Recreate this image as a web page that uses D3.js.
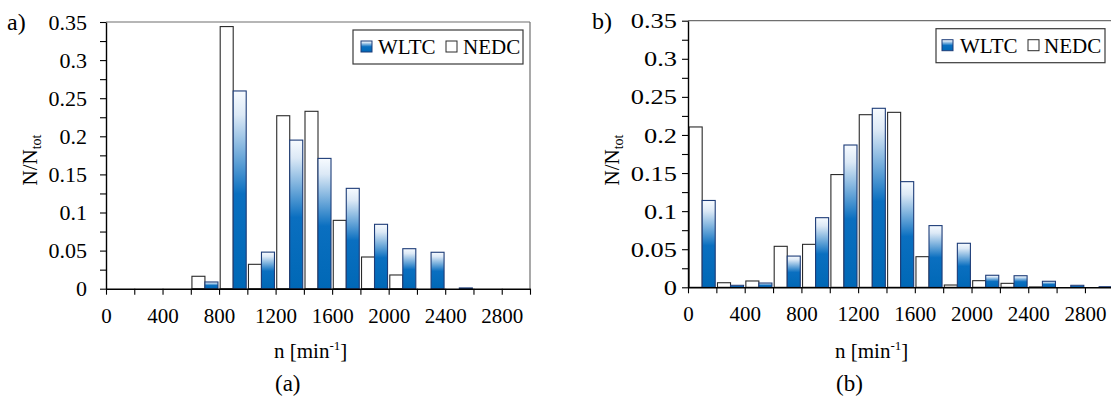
<!DOCTYPE html>
<html>
<head>
<meta charset="utf-8">
<script src="https://cdn.jsdelivr.net/npm/d3@7/dist/d3.min.js"></script>
<style>
  html, body { margin: 0; padding: 0; background: #fff; }
  svg { display: block; }
  svg text { font-family: "Liberation Serif", "Times New Roman", Times, serif; fill: #000; }
</style>
</head>
<body>
<svg id="chart" width="1111" height="399" font-family="Liberation Serif"></svg>
<script>
// ---------------- data ----------------
const binStarts = [0, 200, 400, 600, 800, 1000, 1200, 1400, 1600, 1800, 2000, 2200, 2400, 2600, 2800];
const seriesNames = ["NEDC", "WLTC"];
// panel a)
const wltcA = [0, 0, 0, 0.0088, 0.2595, 0.048, 0.195, 0.171, 0.1317, 0.0845, 0.0525, 0.0478, 0.001, 0, 0];
const nedcA = [0, 0, 0, 0.0163, 0.344, 0.032, 0.227, 0.2328, 0.0897, 0.0416, 0.018, 0, 0, 0, 0];
// panel b)
const wltcB = [0.114, 0.0026, 0.0056, 0.041, 0.0914, 0.1868, 0.235, 0.1387, 0.081, 0.0578, 0.0158, 0.0152, 0.0079, 0.0026, 0.0008];
const nedcB = [0.2105, 0.006, 0.0083, 0.0538, 0.0564, 0.148, 0.2266, 0.2297, 0.0402, 0.003, 0.0087, 0.0052, 0.0005, 0, 0];
// ticks
const yMajorTicks = [0, 0.05, 0.1, 0.15, 0.2, 0.25, 0.3, 0.35];
const yTickLabels = ["0", "0.05", "0.1", "0.15", "0.2", "0.25", "0.3", "0.35"];
const yMinorTicks = [0.025, 0.075, 0.125, 0.175, 0.225, 0.275, 0.325];
const xTickValues = [0, 200, 400, 600, 800, 1000, 1200, 1400, 1600, 1800, 2000, 2200, 2400, 2600, 2800, 3000];
const xLabelValues = [0, 400, 800, 1200, 1600, 2000, 2400, 2800];
const xTickLabels = ["0", "400", "800", "1200", "1600", "2000", "2400", "2800"];

// ---------------- drawing ----------------
const svg = d3.select("#chart");
const defs = svg.append("defs");
const grad = defs.append("linearGradient")
  .attr("id", "wltcGrad").attr("x1", 0).attr("y1", 0).attr("x2", 0).attr("y2", 1);
grad.append("stop").attr("offset", "0").attr("stop-color", "#f7fbff");
grad.append("stop").attr("offset", "0.12").attr("stop-color", "#dce9f6");
grad.append("stop").attr("offset", "0.52").attr("stop-color", "#0a6fc0");
grad.append("stop").attr("offset", "1").attr("stop-color", "#0068b6");

const FONT = 21;

function panel(cfg) {
  const g = svg.append("g");
  const x = d3.scaleLinear().domain([0, 3000]).range([cfg.left, cfg.right]);
  const y = d3.scaleLinear().domain([0, 0.35]).range([cfg.bottom, cfg.top]);
  const xb = d3.scaleBand().domain(binStarts).range([cfg.left, cfg.right])
    .paddingInner(0.08).paddingOuter(0.04);
  const xs = d3.scaleBand().domain(seriesNames).range([0, xb.bandwidth()]);

  // frame (top and right)
  g.append("line").attr("x1", cfg.left).attr("x2", cfg.right)
    .attr("y1", cfg.top).attr("y2", cfg.top)
    .attr("stroke", "#6f6f6f").attr("stroke-width", 1.2);
  g.append("line").attr("x1", cfg.right).attr("x2", cfg.right)
    .attr("y1", cfg.top).attr("y2", cfg.bottom)
    .attr("stroke", "#6f6f6f").attr("stroke-width", 1.2);

  // bars
  const rows = binStarts.map((b, i) => ({ bin: b, NEDC: cfg.nedc[i], WLTC: cfg.wltc[i] }));
  const groups = g.append("g").selectAll("g").data(rows).join("g")
    .attr("transform", d => `translate(${xb(d.bin)},0)`);
  groups.selectAll("rect")
    .data(d => seriesNames.map(s => ({ s, v: d[s] })).filter(e => e.v > 0))
    .join("rect")
    .attr("x", d => xs(d.s))
    .attr("width", xs.bandwidth())
    .attr("y", d => y(d.v))
    .attr("height", d => y(0) - y(d.v))
    .attr("fill", d => d.s === "WLTC" ? "url(#wltcGrad)" : "#ffffff")
    .attr("stroke", d => d.s === "WLTC" ? "#1d3c78" : "#2a2a2a")
    .attr("stroke-width", 1.1);

  // y axis
  const yAxis = g.append("g").attr("transform", `translate(${cfg.left},0)`)
    .call(d3.axisLeft(y).tickValues(yMajorTicks)
      .tickFormat((d, i) => yTickLabels[i])
      .tickSize(6).tickSizeOuter(0).tickPadding(cfg.yPad));
  g.append("g").attr("transform", `translate(${cfg.left},0)`)
    .call(d3.axisLeft(y).tickValues(yMinorTicks).tickFormat("")
      .tickSize(6).tickSizeOuter(0))
    .call(a => a.select(".domain").remove());

  // x axis
  const xAxis = g.append("g").attr("transform", `translate(0,${cfg.bottom})`)
    .call(d3.axisBottom(x).tickValues(xTickValues)
      .tickFormat(d => { const k = xLabelValues.indexOf(d); return k >= 0 ? xTickLabels[k] : ""; })
      .tickSize(6).tickSizeOuter(0).tickPadding(13));

  [yAxis, xAxis].forEach(a => {
    a.attr("font-family", null).attr("font-size", null);
    a.selectAll(".domain").attr("stroke", "#000").attr("stroke-width", 1.4);
  });
  yAxis.selectAll(".tick text").style("font-size", "22px");
  xAxis.selectAll(".tick text").style("font-size", FONT + "px");
  g.selectAll(".tick line").attr("stroke", "#000").attr("stroke-width", 1.1);
  if (cfg.yStretch !== 1) {
    yAxis.selectAll(".tick text")
      .attr("transform", function () {
        const xx = +d3.select(this).attr("x");
        return `translate(${xx},0) scale(${cfg.yStretch},1) translate(${-xx},0)`;
      });
  }

  // panel tag
  g.append("text").attr("x", cfg.tagX).attr("y", cfg.tagY)
    .style("font-size", "24px").text(cfg.tag);

  // y label
  const yl = g.append("text")
    .attr("transform", `translate(${cfg.yLabelX},${cfg.yLabelY}) rotate(-90)`)
    .attr("text-anchor", "middle").style("font-size", FONT + "px");
  yl.append("tspan").text("N/N");
  yl.append("tspan").style("font-size", "14px").attr("dy", 4).text("tot");

  // x label
  const xl = g.append("text").attr("x", cfg.xLabelX).attr("y", cfg.xLabelY)
    .style("font-size", FONT + "px");
  xl.append("tspan").text("n [min");
  xl.append("tspan").style("font-size", "13px").attr("dy", -8).text("-1");
  xl.append("tspan").attr("dy", 8).text("]");

  // caption
  g.append("text").attr("x", cfg.capX).attr("y", cfg.capY)
    .style("font-size", "23px").text(cfg.caption);

  // legend
  const L = cfg.legend;
  const lg = g.append("g").attr("transform", `translate(${L.x},${L.y})`);
  lg.append("rect").attr("width", L.w).attr("height", L.h)
    .attr("fill", "#fff").attr("stroke", "#3a3a3a").attr("stroke-width", 1.2);
  const cy = L.h / 2;
  const items = [
    { name: "WLTC", sx: L.s1, tx: L.t1 },
    { name: "NEDC", sx: L.s2, tx: L.t2 }
  ];
  items.forEach(it => {
    lg.append("rect").attr("x", it.sx).attr("y", cy - 6).attr("width", 11).attr("height", 11)
      .attr("fill", it.name === "WLTC" ? "url(#wltcGrad)" : "#fff")
      .attr("stroke", it.name === "WLTC" ? "#1d3c78" : "#2a2a2a").attr("stroke-width", 1);
    lg.append("text").attr("x", it.tx).attr("y", cy + 7)
      .style("font-size", FONT + "px").text(it.name);
  });
}

panel({
  left: 106, right: 530, top: 22, bottom: 288.7,
  wltc: wltcA, nedc: nedcA, yPad: 13, yStretch: 1,
  tag: "a)", tagX: 7, tagY: 30,
  yLabelX: 37, yLabelY: 160,
  xLabelX: 274, xLabelY: 358,
  caption: "(a)", capX: 275, capY: 391,
  legend: { x: 353, y: 30, w: 170, h: 34, s1: 8, t1: 25, s2: 93, t2: 110 }
});
panel({
  left: 688, right: 1113.3, top: 20.7, bottom: 287.3,
  wltc: wltcB, nedc: nedcB, yPad: 5, yStretch: 1.2,
  tag: "b)", tagX: 592, tagY: 29,
  yLabelX: 619, yLabelY: 160,
  xLabelX: 835, xLabelY: 358,
  caption: "(b)", capX: 836, capY: 391,
  legend: { x: 936, y: 28.7, w: 169, h: 34, s1: 6, t1: 24, s2: 92, t2: 108 }
});
</script>
</body>
</html>
